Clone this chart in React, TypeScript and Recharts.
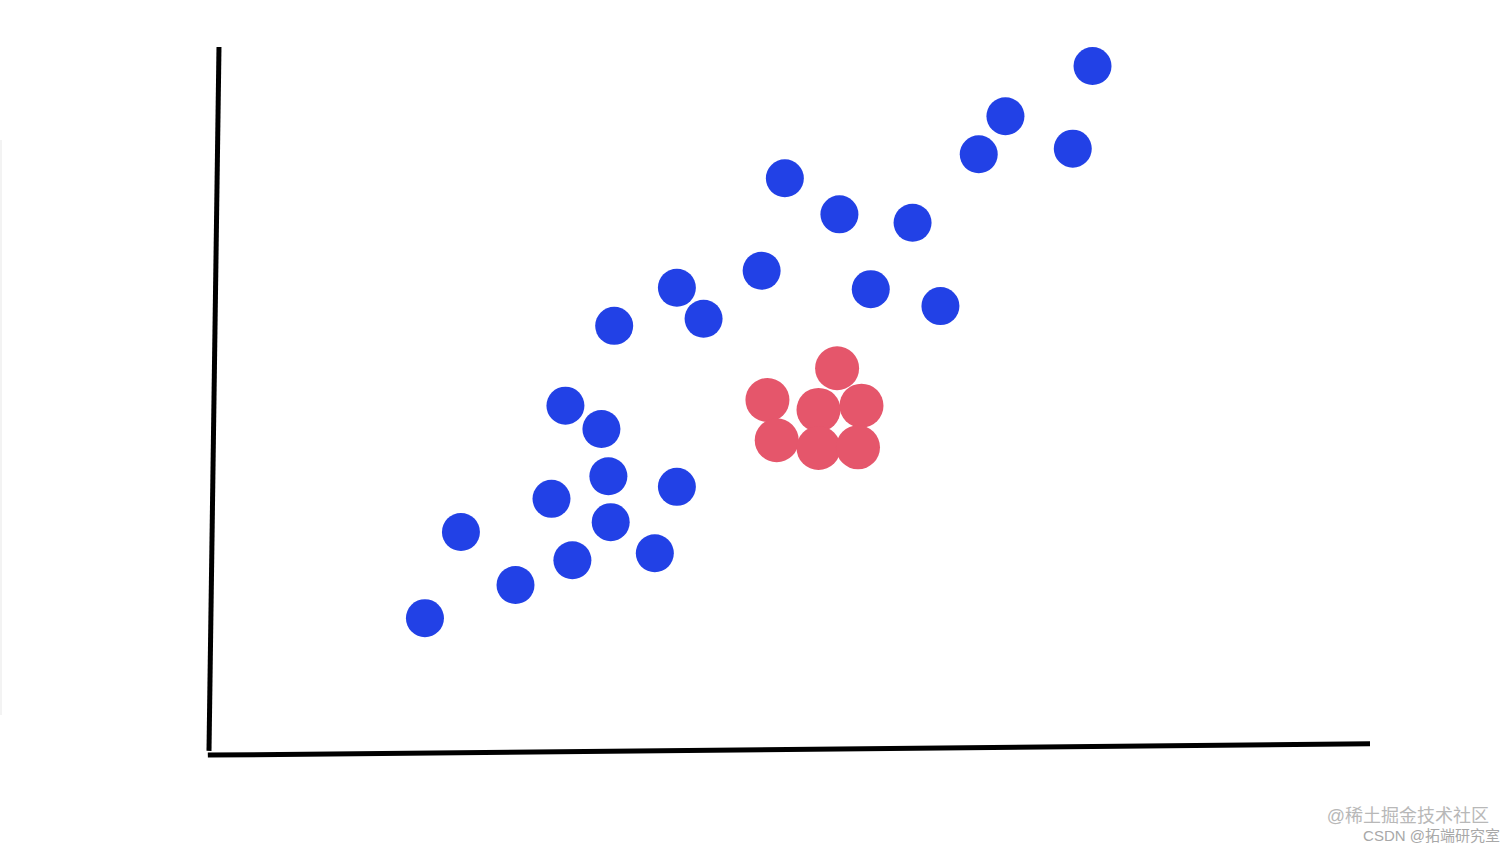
import React from "react";
import {
  ScatterChart,
  Scatter,
  XAxis,
  YAxis,
  ReferenceLine,
} from "recharts";

// blue cluster (the main spread)
const blueX = [18.6, 21.7, 26.4, 29.5, 31.3, 34.6, 34.4, 38.4, 40.3, 30.7, 33.8, 34.9, 40.3, 42.6, 47.6, 49.6, 54.3, 57.0, 60.6, 63.0, 66.3, 68.6, 74.4, 76.1];
const blueY = [19.1, 31.3, 23.8, 36.0, 27.3, 32.7, 39.2, 28.3, 37.7, 49.2, 45.9, 60.5, 65.9, 61.5, 68.3, 81.4, 76.3, 65.7, 75.1, 63.3, 84.8, 90.2, 85.6, 97.3];

// red cluster in the middle
const redX = [54.1, 48.1, 48.9, 52.5, 52.5, 56.2, 55.9];
const redY = [54.5, 50.0, 44.3, 48.6, 43.2, 49.2, 43.3];

// hand-drawn axes, slightly tilted
const yAxisLine = [{ x: 0.86, y: 100 }, { x: 0, y: 0.3 }];
const xAxisLine = [{ x: -0.1, y: -0.3 }, { x: 100, y: 1.3 }];

const blueData = blueX.map((x, i) => ({ x, y: blueY[i] }));
const redData = redX.map((x, i) => ({ x, y: redY[i] }));

const dot = (r: number, fill: string) => (props: any) =>
  <circle cx={props.cx} cy={props.cy} r={r} fill={fill} />;

export default function App() {
  return (
    <div style={{ position: "absolute", left: 0, top: 0, width: 1512, height: 851, background: "#fff" }}>
      <div style={{ position: "absolute", left: 0, top: 140, width: 2, height: 575, background: "#f3f3f3" }} />
      <ScatterChart
        width={1512}
        height={851}
        margin={{ top: 47, right: 142, bottom: 98, left: 209 }}
      >
        <XAxis type="number" dataKey="x" domain={[0, 100]} allowDataOverflow hide />
        <YAxis type="number" dataKey="y" domain={[0, 100]} allowDataOverflow hide />
        <ReferenceLine segment={yAxisLine} stroke="#000" strokeWidth={5} ifOverflow="visible" />
        <ReferenceLine segment={xAxisLine} stroke="#000" strokeWidth={5} ifOverflow="visible" />
        <Scatter data={blueData} shape={dot(19, "#2241e6")} isAnimationActive={false} />
        <Scatter data={redData} shape={dot(22, "#e5566b")} isAnimationActive={false} />
      </ScatterChart>
      <div
        style={{
          position: "absolute",
          right: 23,
          top: 805,
          fontFamily: "'Liberation Sans', 'Noto Sans CJK SC', sans-serif",
          fontSize: 18,
          color: "#b8b8b8",
          whiteSpace: "nowrap",
          lineHeight: "22px",
        }}
      >
        @稀土掘金技术社区
      </div>
      <div
        style={{
          position: "absolute",
          right: 12,
          top: 826,
          fontFamily: "'Liberation Sans', 'Noto Sans CJK SC', sans-serif",
          fontSize: 15,
          color: "#a8a8a8",
          whiteSpace: "nowrap",
          lineHeight: "20px",
        }}
      >
        CSDN @拓端研究室
      </div>
    </div>
  );
}
